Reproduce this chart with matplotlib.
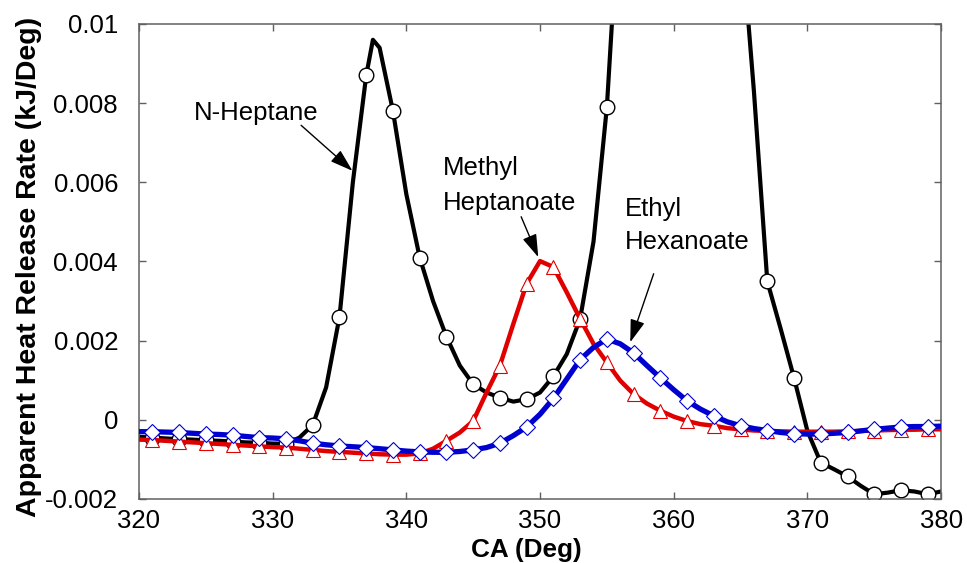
import matplotlib
matplotlib.use("Agg")
import matplotlib.pyplot as plt

plt.rcParams['font.family'] = ['Liberation Sans', 'DejaVu Sans']

# crank angle, 1 deg steps
angle = list(range(320, 381))

# N-Heptane (extra point at the top of the first peak)
heptane_angle = list(range(320, 338)) + [337.5] + list(range(338, 381))
heptane = [-0.00043, -0.00045, -0.00047, -0.00049, -0.0005, -0.00052, -0.00053, -0.00055,
           -0.00057, -0.00058, -0.0006, -0.0006, -0.00045, -0.00013, 0.00082, 0.0026,
           0.006, 0.0087, 0.0096, 0.0094, 0.0078, 0.0057, 0.0041, 0.003, 0.0021, 0.00137,
           0.0009, 0.00069, 0.00056, 0.00046, 0.00052, 0.00069, 0.0011, 0.00166, 0.00255,
           0.0045, 0.0079, 0.0135, 0.019, 0.024, 0.028, 0.030, 0.030, 0.028, 0.024, 0.018,
           0.0125, 0.0083, 0.0035, 0.0023, 0.00106, -0.00028, -0.00108, -0.00125, -0.00143,
           -0.00167, -0.00188, -0.00184, -0.00178, -0.00181, -0.00188, -0.00181]

# Methyl Heptanoate
methyl = [-0.0005, -0.00051, -0.00053, -0.00055, -0.00057, -0.00059, -0.00061, -0.00063,
          -0.00065, -0.00067, -0.00069, -0.0007, -0.00073, -0.00076, -0.00079, -0.00081,
          -0.00083, -0.00085, -0.00087, -0.00088, -0.00088, -0.00085, -0.00073, -0.00053,
          -0.00032, -0.00003, 0.00069, 0.00137, 0.00242, 0.00344, 0.00401, 0.00386, 0.00322,
          0.00255, 0.00192, 0.00145, 0.00099, 0.00065, 0.00041, 0.00023, 0.00008, -0.00003,
          -0.00011, -0.00015, -0.00021, -0.00024, -0.00027, -0.00028, -0.00029, -0.0003,
          -0.0003, -0.0003, -0.0003, -0.00029, -0.00028, -0.00027, -0.00026, -0.00025,
          -0.00025, -0.00024, -0.00024]

# Ethyl Hexanoate
ethyl = [-0.0003, -0.0003, -0.00031, -0.00032, -0.00034, -0.00036, -0.00037, -0.00039,
         -0.00042, -0.00045, -0.00046, -0.00048, -0.00053, -0.00059, -0.00063, -0.00066,
         -0.00068, -0.0007, -0.00073, -0.00076, -0.00079, -0.00081, -0.00082, -0.00082,
         -0.0008, -0.00076, -0.0007, -0.00059, -0.0004, -0.00018, 0.00014, 0.00054, 0.00103,
         0.00152, 0.00183, 0.00204, 0.00192, 0.00169, 0.00137, 0.00106, 0.00076, 0.00048,
         0.00027, 0.0001, -0.00005, -0.00015, -0.00022, -0.00027, -0.00032, -0.00035,
         -0.00036, -0.00036, -0.00034, -0.00032, -0.00028, -0.00024, -0.00021, -0.00018,
         -0.00017, -0.00017, -0.00016]

xticks = [320, 330, 340, 350, 360, 370, 380]
yticks = [-0.002, 0, 0.002, 0.004, 0.006, 0.008, 0.01]
ytick_labels = ['-0.002', '0', '0.002', '0.004', '0.006', '0.008', '0.01']


def odd_degrees(xs):
    # markers sit on the odd whole degrees
    return [float(a).is_integer() and int(a) % 2 == 1 for a in xs]


fig = plt.figure(figsize=(9.67, 5.63), dpi=100)
ax = fig.add_axes([0.1437, 0.1137, 0.8295, 0.8437])

ax.plot(heptane_angle, heptane, c='black', lw=3.0, marker='o', ms=10.5,
        mfc='white', mec='black', mew=1.0, markevery=odd_degrees(heptane_angle),
        solid_joinstyle='round', zorder=2)
ax.plot(angle, methyl, c='#e00000', lw=3.2, marker='^', ms=10.5,
        mfc='white', mec='#e00000', mew=0.8, markevery=odd_degrees(angle),
        solid_joinstyle='round', zorder=3)
ax.plot(angle, ethyl, c='#0000d0', lw=3.8, marker='D', ms=7.8,
        mfc='white', mec='#0000d0', mew=0.8, markevery=odd_degrees(angle),
        solid_joinstyle='round', zorder=4)

ax.set_xlim(320, 380)
ax.set_ylim(-0.002, 0.01)
ax.set_xticks(xticks)
ax.set_yticks(yticks)
ax.set_yticklabels(ytick_labels)

for s in ax.spines.values():
    s.set_color('#606060')
    s.set_linewidth(1.1)
ax.tick_params(direction='in', length=5, width=1, color='#606060',
               top=True, right=True, labelsize=18.5)
ax.tick_params(axis='y', pad=15)
ax.tick_params(axis='x', pad=7)

fig.text(0.544, 0.0112, 'CA (Deg)', ha='center', va='baseline',
         fontsize=18.8, fontweight='bold')
fig.text(0.030, 0.5257, 'Apparent Heat Release Rate (kJ/Deg)', ha='center', va='center',
         rotation=90, fontsize=20.5, fontweight='bold')

# annotations
arrow = dict(arrowstyle='-|>,head_length=1.4,head_width=0.45', color='black', lw=1,
             shrinkA=0, shrinkB=0)
ax.text(324.08, 0.00757, 'N-Heptane', fontsize=18.5, va='baseline')
ax.annotate('', xy=(335.97, 0.00629), xytext=(332.13, 0.00744), arrowprops=arrow)

ax.text(342.73, 0.00619, 'Methyl', fontsize=18.5, va='baseline')
ax.text(342.73, 0.00531, 'Heptanoate', fontsize=18.5, va='baseline')
ax.annotate('', xy=(349.87, 0.00411), xytext=(348.59, 0.00513), arrowprops=arrow)

ax.text(356.38, 0.00514, 'Ethyl', fontsize=18.5, va='baseline')
ax.text(356.38, 0.00432, 'Hexanoate', fontsize=18.5, va='baseline')
ax.annotate('', xy=(356.75, 0.00196), xytext=(358.50, 0.00369), arrowprops=arrow)

fig.savefig('out.png', dpi=100)
